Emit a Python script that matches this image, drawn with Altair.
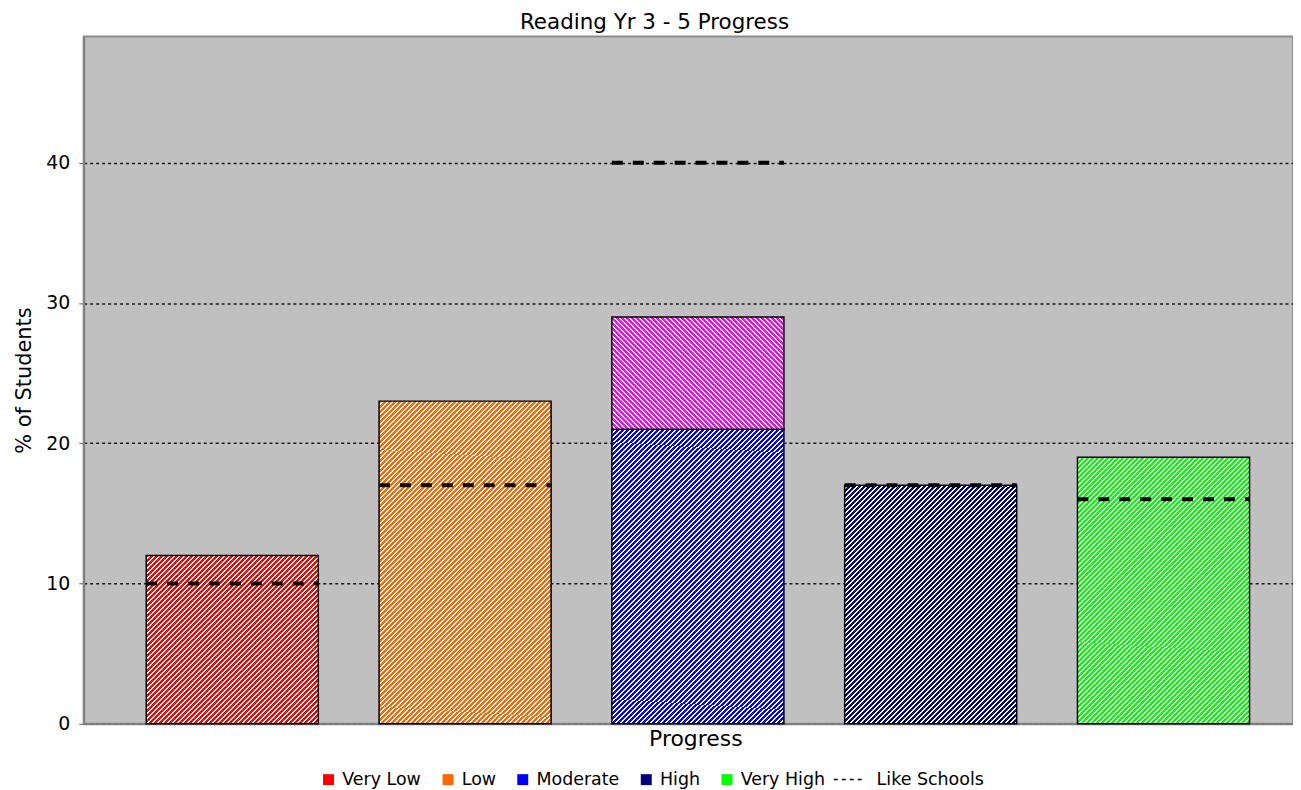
import math
import altair as alt
import pandas as pd

# ---------------- data ----------------
categories = ["Very Low", "Low", "Moderate", "High", "Very High"]
school_pct = [12, 23, 21, 17, 19]
bar_colors = ["#FF0000", "#FF6600", "#0000FF", "#000080", "#00FF00"]
upper_cat = "Moderate"
upper_series = "Moderate (upper)"
upper_pct = 8
upper_color = "#FF00FF"
like_schools = [10, 17, 40, 17, 16]
like_label = "Like Schools"
y_ticks = [0, 10, 20, 30, 40]
y_max = 49
title_text = "Reading Yr 3 - 5 Progress"

# ---------------- layout / style ----------------
FONT = "DejaVu Sans"
PLOT_W = 1214
PLOT_H = 690
W_EFF = 1209
PAD_INNER = 0.261
PAD_OUTER = 0.2277
ALIGN = 0.59
STRIPE_PERIOD = 5   # px along x for one colour + one white stripe
COLOR_PX = 3        # px of colour per period (integer -> even stripes)

rows = []
for c, v, col in zip(categories, school_pct, bar_colors):
    rows.append({"cat": c, "series": c, "start": 0, "end": v, "color": col, "back": False})
base_mod = school_pct[categories.index(upper_cat)]
rows.append({"cat": upper_cat, "series": upper_series, "start": base_mod,
             "end": base_mod + upper_pct, "color": upper_color, "back": True})
seg_df = pd.DataFrame(rows)
like_df = pd.DataFrame({"cat": categories, "like": like_schools, "series": [like_label] * len(categories)})

step = W_EFF / (len(categories) - PAD_INNER + 2 * PAD_OUTER)
bandw = step * (1 - PAD_INNER)
px_per_unit = PLOT_H / y_max


def hatch(color, w, h, back):
    n = int(math.ceil((w + h) / STRIPE_PERIOD))
    length = n * STRIPE_PERIOD
    k = length / (w * w + h * h)
    frac = COLOR_PX / STRIPE_PERIOD
    stops = []
    for i in range(n):
        s0 = i / n
        s1 = (i + frac) / n
        s2 = (i + 1) / n
        stops += [{"offset": s0, "color": color}, {"offset": s1, "color": color},
                  {"offset": s1, "color": "#FFFFFF"}, {"offset": min(s2, 1.0), "color": "#FFFFFF"}]
    if back:
        g = {"x1": 0, "y1": 1, "x2": k * w, "y2": 1 - k * h}
    else:
        g = {"x1": 0, "y1": 0, "x2": k * w, "y2": k * h}
    g.update({"gradient": "linear", "stops": stops})
    return g


x_scale = alt.Scale(domain=categories, paddingInner=PAD_INNER, paddingOuter=PAD_OUTER, align=ALIGN,
                    round=False)
x_axis = alt.Axis(labels=False, ticks=False, title="Progress", domainColor="#808080", domainWidth=2,
                  titleFontSize=22, titleFont=FONT, titleFontWeight="normal", titleColor="black",
                  titleX=614, titleY=22, titleBaseline="alphabetic", titleAlign="center")
y_scale = alt.Scale(domain=[0, y_max], nice=False, zero=True)
y_axis = alt.Axis(values=y_ticks, title="% of Students", grid=True, gridDash=[3, 3], gridColor="#1A1A1A",
                  gridWidth=1.5, gridOpacity=1, tickSize=5, tickColor="#606060", domainColor="#808080",
                  domainWidth=2, labelFontSize=19, labelFont=FONT, labelColor="black", labelPadding=9,
                  titleFontSize=21, titleFont=FONT, titleFontWeight="normal", titleColor="black",
                  titleAngle=270, titleX=-53, titleY=PLOT_H / 2, titleAlign="center",
                  titleBaseline="alphabetic")

X = alt.X("cat:N", sort=categories, scale=x_scale, axis=x_axis)
Y = alt.Y("start:Q", scale=y_scale, axis=y_axis)

# base layer: solid colours (also provides the legend)
base = alt.Chart(seg_df).mark_bar().encode(
    x=X, y=Y, y2="end:Q",
    color=alt.Color("series:N",
                    scale=alt.Scale(domain=categories + [upper_series], range=bar_colors + [upper_color]),
                    legend=alt.Legend(values=categories, title=None, orient="none", legendX=237, legendY=737,
                                      direction="horizontal", symbolType="square", symbolSize=121,
                                      symbolStrokeWidth=0, labelFontSize=17.5, labelFont=FONT,
                                      labelColor="black", columnPadding=18, labelOffset=5, padding=0)),
)

layers = [base]
for _, r in seg_df.iterrows():
    h = (r["end"] - r["start"]) * px_per_unit
    layers.append(
        alt.Chart(seg_df).transform_filter(alt.datum.series == r["series"]).mark_bar(
            fill=hatch(r["color"], bandw, h, bool(r["back"])), stroke="black", strokeWidth=1.5
        ).encode(x=X, y=Y, y2="end:Q")
    )

rule = alt.Chart(like_df).mark_rule(strokeDash=[11, 10], strokeWidth=4).encode(
    x=alt.X("cat:N", sort=categories, scale=x_scale, axis=x_axis, bandPosition=0),
    x2=alt.X2("cat:N", bandPosition=1),
    y=alt.Y("like:Q", scale=y_scale, axis=y_axis),
    color=alt.Color("series:N", scale=alt.Scale(domain=[like_label], range=["#000000"]),
                    legend=alt.Legend(title=None, orient="none", legendX=752, legendY=731,
                                      symbolType="stroke", symbolSize=784, symbolStrokeWidth=1.5,
                                      symbolStrokeColor="#000000", symbolFillColor="transparent",
                                      symbolDash=[4, 4], labelFontSize=17.5, labelFont=FONT,
                                      labelColor="black", labelOffset=14, padding=0)),
)
layers.append(rule)

chart = alt.layer(*layers).resolve_scale(color="independent").properties(
    width=PLOT_W, height=PLOT_H,
    title=alt.TitleParams(title_text, fontSize=21.5, font=FONT, fontWeight="normal", color="black",
                          anchor="middle", dx=-34, dy=21, offset=7, baseline="alphabetic", frame="group"),
    autosize=alt.AutoSizeParams(type="none"),
    padding={"left": 76, "top": 27, "right": 0, "bottom": 70},
).configure_view(fill="#C0C0C0", stroke="#8C8C8C", strokeWidth=2)

chart.save("out.html", embed_options={"renderer": "svg", "actions": False})
